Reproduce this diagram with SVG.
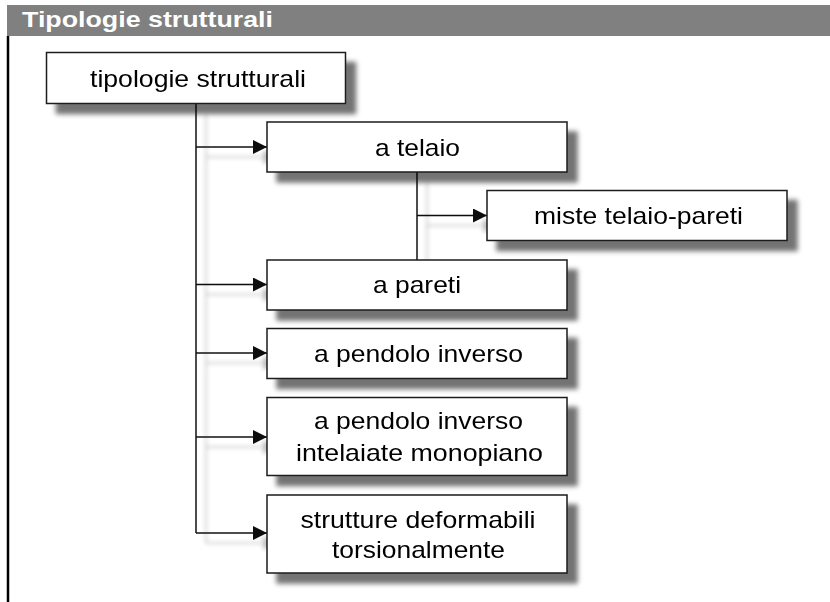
<svg xmlns="http://www.w3.org/2000/svg" width="830" height="602" viewBox="0 0 830 602">
<defs>
<style>
.box{fill:#fff;stroke:#1a1a1a;stroke-width:1.5}
.lbl{font-family:"Liberation Sans",Arial,sans-serif;font-size:24px;fill:#000;text-anchor:middle}
.con{fill:none;stroke:#111;stroke-width:1.5}
.title{font-family:"Liberation Sans",Arial,sans-serif;font-size:22px;font-weight:bold;fill:#fff}
</style>
<filter id="sh" x="-10%" y="-20%" width="130%" height="160%">
<feGaussianBlur in="SourceAlpha" stdDeviation="2.5"/>
<feOffset dx="10" dy="10" result="b"/>
<feComponentTransfer><feFuncA type="linear" slope="0.55"/></feComponentTransfer>
<feMerge><feMergeNode/><feMergeNode in="SourceGraphic"/></feMerge>
</filter>
<filter id="shl" x="-20%" y="-10%" width="140%" height="130%">
<feGaussianBlur in="SourceAlpha" stdDeviation="2"/>
<feOffset dx="10" dy="10" result="b"/>
<feComponentTransfer><feFuncA type="linear" slope="0.25"/></feComponentTransfer>
<feMerge><feMergeNode/><feMergeNode in="SourceGraphic"/></feMerge>
</filter>
<marker id="arr" viewBox="0 0 14 14" markerWidth="14" markerHeight="14" markerUnits="userSpaceOnUse" refX="14" refY="7" orient="auto">
<path d="M0,0 L14,7 L0,14 z" fill="#111"/>
</marker>
</defs>
<rect width="830" height="602" fill="#fff"/>
<g id="header">
<rect x="7" y="5" width="823" height="31" fill="#808080"/>
<text class="title" x="22" y="27" textLength="251" lengthAdjust="spacingAndGlyphs">Tipologie strutturali</text>
<line x1="8" y1="36" x2="8" y2="602" stroke="#000" stroke-width="2.5"/>
</g>
<g id="connectors" filter="url(#shl)">
<path class="con" d="M196,104 V533"/>
<path class="con" d="M196,147 H267" marker-end="url(#arr)"/>
<path class="con" d="M196,284.5 H267" marker-end="url(#arr)"/>
<path class="con" d="M196,353 H267" marker-end="url(#arr)"/>
<path class="con" d="M196,437 H267" marker-end="url(#arr)"/>
<path class="con" d="M196,533 H267" marker-end="url(#arr)"/>
<path class="con" d="M417,172 V260"/>
<path class="con" d="M417,215.5 H487" marker-end="url(#arr)"/>
</g>
<g id="n-root" filter="url(#sh)">
<rect class="box" x="46.5" y="52.5" width="299" height="51"/>
<text class="lbl" x="198" y="87" textLength="216" lengthAdjust="spacingAndGlyphs">tipologie strutturali</text>
</g>
<g id="n-telaio" filter="url(#sh)">
<rect class="box" x="267" y="122" width="300" height="50"/>
<text class="lbl" x="417.5" y="156" textLength="85" lengthAdjust="spacingAndGlyphs">a telaio</text>
</g>
<g id="n-miste" filter="url(#sh)">
<rect class="box" x="487" y="190.5" width="300" height="50"/>
<text class="lbl" x="638.5" y="224" textLength="209" lengthAdjust="spacingAndGlyphs">miste telaio-pareti</text>
</g>
<g id="n-pareti" filter="url(#sh)">
<rect class="box" x="267" y="260" width="300" height="50"/>
<text class="lbl" x="417" y="293" textLength="88" lengthAdjust="spacingAndGlyphs">a pareti</text>
</g>
<g id="n-pendolo" filter="url(#sh)">
<rect class="box" x="267" y="328.5" width="300" height="50"/>
<text class="lbl" x="418.5" y="362" textLength="209" lengthAdjust="spacingAndGlyphs">a pendolo inverso</text>
</g>
<g id="n-pendolo-mono" filter="url(#sh)">
<rect class="box" x="267" y="397.5" width="300" height="78"/>
<text class="lbl" x="418.5" y="429" textLength="209" lengthAdjust="spacingAndGlyphs">a pendolo inverso</text>
<text class="lbl" x="419.5" y="461" textLength="247" lengthAdjust="spacingAndGlyphs">intelaiate monopiano</text>
</g>
<g id="n-deformabili" filter="url(#sh)">
<rect class="box" x="267" y="495" width="300" height="78"/>
<text class="lbl" x="418" y="528" textLength="235" lengthAdjust="spacingAndGlyphs">strutture deformabili</text>
<text class="lbl" x="418.5" y="558" textLength="173" lengthAdjust="spacingAndGlyphs">torsionalmente</text>
</g>
</svg>
